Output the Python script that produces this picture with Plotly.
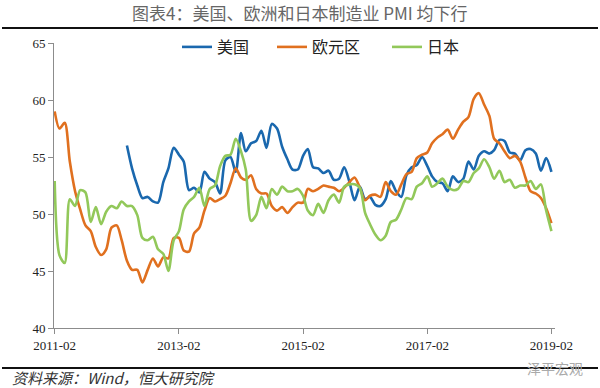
import plotly.graph_objects as go
import pandas as pd

dates = pd.date_range("2011-02-01", "2019-02-01", freq="MS")

euro = [59.0, 57.5, 58.0, 54.6, 52.0, 50.4, 49.0, 48.5, 47.1, 46.4, 46.9,
        48.8, 49.0, 47.7, 45.9, 45.1, 45.1, 44.0, 45.1, 46.1, 45.4, 46.2, 46.1,
        47.9, 47.9, 46.8, 46.7, 48.3, 48.8, 50.3, 51.4, 51.1, 51.3, 51.6, 52.7,
        54.0, 53.2, 53.0, 53.4, 52.2, 51.8, 51.8, 50.7, 50.3, 50.6, 50.1, 50.6,
        51.0, 51.0, 52.2, 52.0, 52.2, 52.5, 52.4, 52.3, 52.0, 52.3, 52.8, 53.2,
        52.3, 51.2, 51.6, 51.7, 51.5, 52.8, 52.0, 51.7, 52.6, 53.5, 53.7, 54.9,
        55.2, 55.4, 56.2, 56.7, 57.0, 57.4, 56.6, 57.4, 58.1, 58.5, 60.1, 60.6,
        59.6, 58.6, 56.6, 56.2, 55.5, 54.9, 55.1, 54.6, 53.2, 52.0, 51.8, 51.4,
        50.5, 49.2]

japan = [52.9, 46.4, 45.7, 51.3, 50.7, 52.1, 51.9, 49.3, 50.6, 49.1, 50.2,
         50.7, 50.5, 51.1, 50.7, 50.7, 49.9, 47.9, 47.7, 48.0, 46.9, 46.5, 45.0,
         47.7, 48.5, 50.4, 51.1, 51.5, 52.3, 50.7, 52.2, 52.5, 54.2, 55.1, 55.2,
         56.6, 55.5, 53.9, 49.4, 49.9, 51.5, 50.5, 52.2, 51.7, 52.4, 52.0, 52.0,
         52.2, 51.6, 50.3, 49.9, 50.9, 50.1, 51.2, 51.7, 51.0, 52.4, 52.6, 52.6,
         52.3, 50.1, 49.1, 48.2, 47.7, 48.1, 49.3, 49.5, 50.4, 51.4, 51.3, 52.4,
         52.7, 53.3, 52.4, 52.7, 53.1, 52.4, 52.1, 52.2, 52.9, 52.8, 53.6, 54.0,
         54.8, 54.1, 53.1, 53.8, 52.8, 53.0, 52.3, 52.5, 52.5, 52.9, 52.2, 52.6,
         50.3, 48.5]

# US series starts 2012-04
us = [None] * 14 + [
    56.0, 54.0, 52.5, 51.4, 51.5, 51.1, 51.0, 52.8, 54.0,
    55.8, 55.2, 54.6, 52.1, 52.3, 51.9, 53.7, 53.1, 52.8, 51.8, 54.7, 55.0,
    53.7, 57.1, 55.5, 56.2, 56.4, 57.3, 55.8, 57.9, 57.5, 55.9, 54.8, 53.9,
    53.9, 55.1, 55.7, 54.1, 54.0, 53.6, 53.8, 53.0, 53.1, 54.1, 52.8, 51.2,
    52.4, 51.3, 51.5, 50.8, 50.7, 51.3, 52.9, 52.0, 51.5, 53.4, 54.1, 54.3,
    55.0, 54.2, 53.3, 52.8, 52.7, 52.0, 53.3, 52.8, 53.1, 54.6, 53.9, 55.1,
    55.5, 55.3, 55.6, 56.5, 56.4, 55.4, 55.3, 54.7, 55.6, 55.7, 55.3, 53.8,
    54.9, 53.7]

series_names = ["美国", "欧元区", "日本"]
series_values = [us, euro, japan]
colors = ["#1A68AE", "#E0701F", "#92C85A"]

y_ticks = [40, 45, 50, 55, 60, 65]

W, H = 600, 388
L, R, T, B = 54, 45, 43, 60
PW, PH = W - L - R, H - T - B


def px_x(px):
    return (px - L) / PW


def px_y(py):
    return (H - B - py) / PH


legend_ids = ["legend", "legend2", "legend3"]
legend_starts = [177, 272, 387]

fig = go.Figure()
for name, vals, c, lid in zip(series_names, series_values, colors, legend_ids):
    fig.add_trace(go.Scatter(
        x=dates, y=vals, name=name, mode="lines",
        line=dict(color=c, width=2.6, shape="spline", smoothing=0.8),
        connectgaps=False, legend=lid,
    ))

legend_common = dict(orientation="h", xanchor="left", y=px_y(47), yanchor="middle",
                     yref="paper", borderwidth=0,
                     font=dict(family="Noto Sans CJK SC", size=16, color="#222222"),
                     bgcolor="rgba(0,0,0,0)", itemwidth=30)

fig.update_layout(
    width=W, height=H,
    margin=dict(l=L, r=R, t=T, b=B),
    paper_bgcolor="white", plot_bgcolor="white",
    showlegend=True,
    legend=dict(x=px_x(legend_starts[0]), **legend_common),
    legend2=dict(x=px_x(legend_starts[1]), **legend_common),
    legend3=dict(x=px_x(legend_starts[2]), **legend_common),
    font=dict(family="Liberation Serif", size=13, color="#222222"),
)

fig.update_xaxes(
    type="date",
    range=["2011-01-28", "2019-02-22"],
    tick0="2011-02-01", dtick="M24", tickformat="%Y-%m",
    showgrid=False, zeroline=False,
    showline=True, linecolor="#8C8C8C", linewidth=1,
    ticks="outside", ticklen=5, tickcolor="#8C8C8C",
    tickfont=dict(family="Liberation Serif", size=13, color="#222222"),
)
fig.update_yaxes(
    range=[40, 65], tickvals=y_ticks,
    showgrid=False, zeroline=False,
    showline=True, linecolor="#8C8C8C", linewidth=1,
    ticks="outside", ticklen=5, tickcolor="#8C8C8C",
    tickfont=dict(family="Liberation Serif", size=13, color="#222222"),
)

# title, rules, source, watermark
fig.add_annotation(text="图表4：美国、欧洲和日本制造业 PMI 均下行", xref="paper", yref="paper",
                   x=px_x(300), xanchor="center", y=px_y(13), yanchor="middle",
                   showarrow=False,
                   font=dict(family="Noto Sans CJK SC", size=17, color="#666666"))
fig.add_shape(type="line", xref="paper", yref="paper", x0=px_x(2), x1=px_x(598),
              y0=px_y(28), y1=px_y(28), line=dict(color="#111111", width=2))
fig.add_shape(type="line", xref="paper", yref="paper", x0=px_x(2), x1=px_x(598),
              y0=px_y(368), y1=px_y(368), line=dict(color="#111111", width=2))
fig.add_annotation(text="资料来源：Wind，恒大研究院", xref="paper", yref="paper",
                   x=px_x(10), xanchor="left", y=px_y(377), yanchor="middle",
                   showarrow=False,
                   font=dict(family="Noto Sans CJK SC", size=15, color="#333333", style="italic"))
fig.add_annotation(text="泽平宏观", xref="paper", yref="paper",
                   x=px_x(555), xanchor="center", y=px_y(368), yanchor="middle",
                   showarrow=False,
                   font=dict(family="Noto Sans CJK SC", size=14, color="#AAAAAA"))

fig.write_html("out.html", config={"displayModeBar": False},
               post_script="document.body.style.margin='0';document.body.style.overflow='hidden';")
